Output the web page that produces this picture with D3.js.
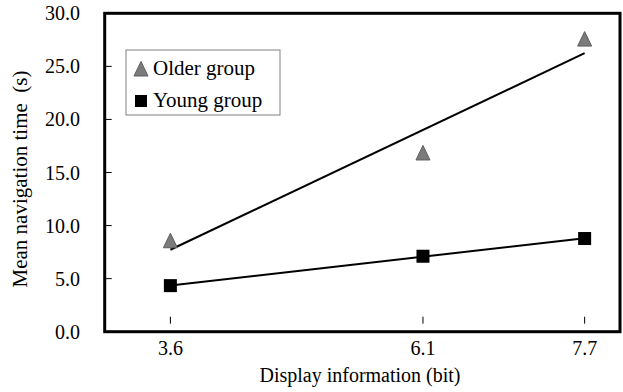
<!DOCTYPE html>
<html>
<head>
<meta charset="utf-8">
<script src="https://cdn.jsdelivr.net/npm/d3@7/dist/d3.min.js"></script>
<style>
  html, body { margin: 0; padding: 0; background: #fff; }
  svg { display: block; }
  svg text { font-family: "Liberation Serif", "DejaVu Serif", serif; }
</style>
</head>
<body>
<svg id="chart" width="623" height="392"></svg>
<script>
// Display information (bit) for each condition
const displayInfo = [3.6, 6.1, 7.7];
// Mean navigation time (s) per group
const olderTimes = [8.57, 16.84, 27.57];
const youngTimes = [4.34, 7.11, 8.78];
const seriesNames = ["Older group", "Young group"];
// Axis ticks
const xTickValues = [3.6, 6.1, 7.7];
const yTickValues = [0, 5, 10, 15, 20, 25, 30];
const xTitle = "Display information (bit)";
const yTitle = "Mean navigation time\u00a0\u00a0(s)";

const FONT = "Liberation Serif, DejaVu Serif, serif";
const svg = d3.select("#chart").attr("font-family", FONT);
const plot = { left: 104.7, right: 620, top: 13.3, bottom: 331.7 };

const x = d3.scaleLinear().domain([2.95, 8.05]).range([plot.left, plot.right]);
const y = d3.scaleLinear().domain([0, 30]).range([plot.bottom, plot.top]);

// Least-squares trend line for a series
function trend(xs, ys) {
  const mx = d3.mean(xs), my = d3.mean(ys);
  const sxy = d3.sum(xs, (v, i) => (v - mx) * (ys[i] - my));
  const sxx = d3.sum(xs, v => (v - mx) * (v - mx));
  const b = sxy / sxx, a = my - b * mx;
  const x0 = d3.min(xs), x1 = d3.max(xs);
  return [[x0, a + b * x0], [x1, a + b * x1]];
}

// Frame
svg.append("rect")
  .attr("x", plot.left).attr("y", plot.top)
  .attr("width", plot.right - plot.left).attr("height", plot.bottom - plot.top)
  .attr("fill", "none").attr("stroke", "#000").attr("stroke-width", 3);

// Y axis: inward ticks and labels
const yAxis = svg.append("g");
yAxis.selectAll("line").data(yTickValues.filter(v => v > 0 && v < 30)).join("line")
  .attr("x1", plot.left).attr("x2", plot.left + 7)
  .attr("y1", d => y(d)).attr("y2", d => y(d))
  .attr("stroke", "#000").attr("stroke-width", 1);
yAxis.selectAll("text").data(yTickValues).join("text")
  .attr("x", 80).attr("y", d => y(d)).attr("dy", "0.35em")
  .attr("text-anchor", "end").attr("font-size", 20).attr("fill", "#000")
  .attr("font-family", FONT)
  .text(d => d3.format(".1f")(d));

// X axis: short tick marks above the baseline and labels
const xAxis = svg.append("g");
xAxis.selectAll("line").data(xTickValues).join("line")
  .attr("x1", d => x(d)).attr("x2", d => x(d))
  .attr("y1", plot.bottom - 15).attr("y2", plot.bottom - 8)
  .attr("stroke", "#000").attr("stroke-width", 1);
xAxis.selectAll("text").data(xTickValues).join("text")
  .attr("x", d => x(d)).attr("y", 355)
  .attr("text-anchor", "middle").attr("font-size", 20).attr("fill", "#000")
  .attr("font-family", FONT)
  .text(d => d3.format(".1f")(d));

// Axis titles
svg.append("text")
  .attr("x", 360).attr("y", 382)
  .attr("text-anchor", "middle").attr("font-size", 20).attr("fill", "#000")
  .attr("font-family", FONT)
  .text(xTitle);
svg.append("text")
  .attr("transform", "translate(27,179) rotate(-90)")
  .attr("text-anchor", "middle").attr("font-size", 21).attr("fill", "#000")
  .attr("font-family", FONT)
  .text(yTitle);

// Trend lines
const line = d3.line().x(d => x(d[0])).y(d => y(d[1]));
[olderTimes, youngTimes].forEach(vals => {
  svg.append("path")
    .attr("d", line(trend(displayInfo, vals)))
    .attr("fill", "none").attr("stroke", "#000").attr("stroke-width", 2);
});

// Markers
const tri = "M0,-7.5L7,7L-7,7Z";
svg.append("g").selectAll("path").data(displayInfo.map((d, i) => [d, olderTimes[i]])).join("path")
  .attr("transform", d => `translate(${x(d[0])},${y(d[1])})`)
  .attr("d", tri).attr("fill", "#7b7b7b").attr("stroke", "#5e5e5e").attr("stroke-width", 1);
svg.append("g").selectAll("rect").data(displayInfo.map((d, i) => [d, youngTimes[i]])).join("rect")
  .attr("x", d => x(d[0]) - 6.5).attr("y", d => y(d[1]) - 6.5)
  .attr("width", 13).attr("height", 13).attr("fill", "#000");

// Legend
const lg = svg.append("g").attr("transform", "translate(126,50)");
lg.append("rect").attr("width", 154).attr("height", 65)
  .attr("fill", "#fff").attr("stroke", "#808080").attr("stroke-width", 1);
lg.append("path").attr("transform", "translate(15,19)").attr("d", tri)
  .attr("fill", "#7b7b7b").attr("stroke", "#5e5e5e").attr("stroke-width", 1);
lg.append("rect").attr("x", 9).attr("y", 45).attr("width", 12).attr("height", 12).attr("fill", "#000");
lg.selectAll("text").data(seriesNames).join("text")
  .attr("x", 27).attr("y", (d, i) => 25 + i * 32)
  .attr("font-size", 21).attr("fill", "#000")
  .attr("font-family", FONT)
  .text(d => d);
</script>
</body>
</html>
